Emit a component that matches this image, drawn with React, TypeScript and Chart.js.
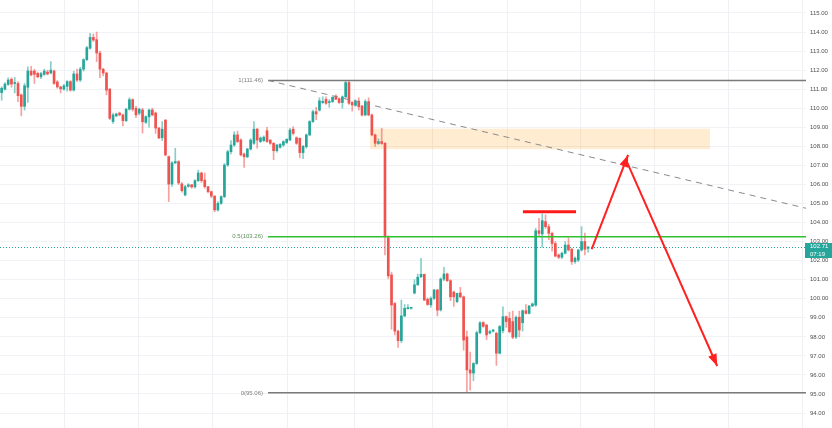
import React, { useEffect, useRef } from 'react';
import { Chart, registerables } from 'chart.js';
Chart.register(...registerables);

// ---- Candle data (hourly OHLC) ----
const opens = [
  110.82, 111.0, 111.25, 111.52, 111.3, 111.3, 110.7, 110.1, 111.1, 111.95,
  111.95, 111.83, 111.65, 111.78, 111.9, 111.85, 111.95, 111.38, 111.12, 111.0,
  111.15, 111.4, 110.95, 111.8, 111.48, 112.05, 112.55, 113.15, 113.72, 113.6,
  112.9, 112.05, 111.85, 111.0, 109.3, 109.6, 109.75, 109.65, 109.35, 109.95,
  110.45, 110.0, 109.74, 109.91, 109.26, 109.55, 109.91, 109.75, 108.96, 108.45,
  109.38, 107.46, 106.02, 107.13, 107.2, 106.03, 105.45, 105.9, 105.98, 105.87,
  106.2, 106.6, 106.23, 105.88, 105.62, 105.39, 104.66, 105.01, 105.36, 107.02,
  107.72, 108.07, 108.6, 108.33, 107.6, 107.45, 107.86, 108.16, 108.9, 108.25,
  108.3, 108.82, 108.33, 108.16, 107.77, 107.95, 108.07, 108.2, 108.33, 108.9,
  108.45, 108.42, 107.67, 107.98, 108.6, 109.3, 109.82, 109.9, 110.3, 110.47,
  110.3, 110.35, 110.64, 110.5, 110.3, 110.6, 111.35, 110.3, 110.15, 110.38,
  110.12, 109.65, 110.35, 109.65, 108.6, 108.15, 108.25, 108.16, 103.2, 101.25,
  99.75, 98.3, 97.8, 99.1, 99.48, 99.5, 100.3, 100.73, 101.15, 101.28,
  99.97, 99.68, 100.02, 100.46, 99.41, 101.03, 101.3, 100.95, 100.35, 99.85,
  100.3, 100.1, 98.0, 96.26, 96.1, 96.6, 98.22, 98.75, 98.62, 98.2,
  98.3, 98.19, 97.14, 98.32, 99.06, 98.97, 98.8, 97.99, 99.03, 98.74,
  99.37, 99.23, 99.62, 99.67, 103.57, 103.4, 104.05, 103.78, 103.43, 102.9,
  102.3, 102.18, 102.39, 102.82, 102.6, 101.95, 102.03, 102.56, 103.0, 102.65,
];
const highs = [
  111.13, 111.35, 111.6, 111.6, 111.62, 111.4, 110.75, 111.3, 112.18, 112.2,
  112.05, 111.9, 111.88, 112.05, 112.0, 112.45, 112.0, 111.45, 111.15, 111.25,
  111.45, 111.45, 111.95, 112.05, 112.15, 112.6, 113.25, 113.93, 113.9, 114.0,
  113.0, 112.1, 111.9, 111.05, 109.75, 109.75, 109.8, 109.7, 110.0, 110.55,
  110.5, 110.1, 110.0, 110.0, 109.6, 109.95, 110.0, 109.8, 109.0, 109.3,
  109.4, 107.5, 107.2, 107.9, 107.25, 106.1, 105.95, 106.05, 106.0, 106.25,
  106.75, 106.65, 106.6, 105.9, 105.65, 105.4, 105.1, 105.4, 107.1, 107.8,
  108.3, 108.77, 108.8, 108.4, 107.65, 107.9, 108.4, 109.3, 108.95, 108.5,
  108.55, 109.0, 108.35, 108.2, 108.1, 108.15, 108.3, 108.4, 108.95, 109.03,
  108.5, 108.45, 108.05, 108.65, 109.35, 109.9, 110.05, 110.55, 110.6, 110.6,
  110.45, 110.6, 110.7, 110.55, 110.65, 111.46, 111.46, 110.35, 110.45, 110.55,
  110.15, 110.45, 110.55, 109.7, 108.65, 108.4, 108.95, 108.2, 103.3, 101.4,
  99.8, 98.35, 99.93, 99.7, 99.7, 99.55, 101.0, 101.3, 102.12, 101.3,
  100.05, 100.1, 100.5, 100.5, 101.1, 101.65, 101.35, 101.0, 100.4, 100.3,
  100.6, 100.15, 98.3, 97.2, 96.65, 98.3, 98.8, 98.8, 98.65, 98.35,
  98.4, 98.25, 98.6, 99.58, 99.1, 99.3, 99.35, 99.1, 99.35, 99.42,
  99.7, 99.65, 99.78, 103.7, 104.22, 104.45, 104.4, 103.9, 103.5, 103.0,
  102.35, 102.45, 103.0, 103.2, 102.65, 102.2, 102.6, 103.78, 103.45, 102.75,
];
const lows = [
  110.42, 110.95, 111.2, 111.1, 110.8, 110.35, 109.6, 109.9, 110.3, 111.7,
  111.3, 111.6, 111.55, 111.72, 111.75, 111.8, 111.25, 111.05, 110.8, 110.95,
  110.9, 110.9, 110.9, 111.4, 111.4, 111.95, 112.5, 113.1, 113.5, 112.45,
  111.6, 111.7, 110.7, 109.4, 109.2, 109.55, 109.6, 109.07, 109.3, 109.9,
  109.85, 109.5, 109.65, 108.7, 109.2, 109.0, 109.6, 108.68, 108.4, 108.3,
  107.5, 105.1, 105.9, 107.1, 106.0, 105.6, 105.4, 105.85, 105.8, 105.8,
  106.15, 106.1, 105.8, 105.55, 105.3, 104.57, 104.6, 104.95, 105.3, 106.95,
  107.6, 108.0, 108.2, 107.5, 106.9, 107.4, 107.8, 108.1, 107.9, 108.2,
  108.25, 108.2, 108.1, 107.3, 107.7, 107.9, 108.0, 108.15, 108.3, 108.6,
  108.1, 107.4, 107.35, 107.9, 108.55, 109.25, 109.4, 109.85, 110.25, 110.2,
  110.05, 110.3, 110.45, 110.25, 110.0, 110.55, 110.2, 109.85, 110.1, 109.9,
  109.6, 109.6, 109.6, 108.55, 108.0, 108.1, 108.1, 102.3, 101.05, 98.4,
  98.1, 97.45, 97.7, 99.05, 99.45, 99.45, 100.25, 100.7, 101.1, 99.9,
  99.65, 99.55, 99.95, 99.1, 99.35, 100.95, 100.9, 99.9, 99.6, 99.8,
  100.05, 97.3, 95.06, 95.2, 95.7, 96.55, 98.15, 98.5, 97.85, 98.15,
  98.25, 96.5, 97.1, 98.2, 98.5, 98.2, 97.9, 97.9, 98.0, 98.3,
  99.2, 99.2, 99.6, 99.6, 103.3, 102.7, 103.7, 103.1, 102.5, 102.2,
  102.1, 102.1, 102.35, 102.5, 101.8, 101.86, 101.95, 102.5, 102.3, 102.45,
];
const closes = [
  111.05, 111.27, 111.48, 111.27, 111.33, 110.66, 110.1, 111.18, 111.96, 111.75,
  111.78, 111.65, 111.82, 111.95, 111.8, 112.0, 111.3, 111.12, 111.02, 111.18,
  111.4, 110.95, 111.8, 111.48, 112.05, 112.55, 113.18, 113.72, 113.58, 112.9,
  112.05, 111.85, 110.95, 109.47, 109.65, 109.7, 109.65, 109.35, 109.95, 110.45,
  109.95, 109.65, 109.95, 109.29, 109.56, 109.91, 109.65, 108.96, 108.44, 108.9,
  107.55, 106.02, 107.13, 107.2, 106.08, 105.67, 105.88, 105.98, 105.87, 106.2,
  106.6, 106.2, 105.88, 105.62, 105.39, 104.66, 105.01, 105.36, 107.02, 107.72,
  108.07, 108.6, 108.25, 107.55, 107.45, 107.86, 108.33, 108.9, 108.33, 108.44,
  108.48, 108.25, 108.16, 107.77, 108.07, 108.1, 108.25, 108.37, 108.86, 108.68,
  108.16, 107.67, 108.0, 108.6, 109.3, 109.82, 109.7, 110.39, 110.36, 110.26,
  110.35, 110.58, 110.47, 110.3, 110.6, 111.35, 110.26, 110.17, 110.38, 110.08,
  109.64, 110.35, 109.65, 108.6, 108.16, 108.25, 108.15, 103.26, 101.2, 99.67,
  98.3, 97.8, 99.1, 99.5, 99.52, 99.52, 100.73, 101.13, 101.28, 99.93,
  99.7, 100.02, 100.46, 99.4, 101.03, 101.3, 100.95, 100.1, 100.1, 100.28,
  100.1, 97.83, 96.26, 96.1, 96.6, 98.22, 98.74, 98.55, 98.1, 98.28,
  98.36, 97.14, 98.54, 99.06, 98.8, 98.27, 97.98, 99.03, 98.36, 99.37,
  99.23, 99.62, 99.73, 103.57, 103.43, 104.1, 103.78, 103.43, 102.9, 102.24,
  102.18, 102.39, 102.82, 102.56, 101.95, 102.13, 102.56, 103.0, 102.6, 102.71,
];

// total time slots on the x axis (candles + empty future space)
const SLOT_COUNT = 246;
const slotLabels = Array.from({ length: SLOT_COUNT }, (_, i) => String(i));

// price axis
const priceTicks = [94, 95, 96, 97, 98, 99, 100, 101, 102, 103, 104, 105, 106, 107, 108, 109, 110, 111, 112, 113, 114, 115];
const PRICE_MIN = 93.215;
const PRICE_MAX = 115.682;

// day separators (slot index positions)
const dayBreaks = [18.9, 41.6, 64.3, 87.1, 107.6, 131.4, 154.3, 176.6, 199.2, 221.8, 244.4];

// Fibonacci retracement
const fibStartSlot = 81.3;
const fibLabels = ['1(111.46)', '0.5(103.26)', '0(95.06)'];
const fibPrices = [111.46, 103.26, 95.06];

// trend line (slot, price)
const trendFrom = [81.3, 111.46];
const trendTo = [245.5, 104.75];

// supply zone
const zoneSlots = [112.4, 216.2];
const zonePrices = [107.85, 108.93];

// resistance mark
const resSlots = [159.1, 175.3];
const resPrice = 104.57;

// projection arrows (slot, price)
const arrowUp = [[180.1, 102.6], [191.2, 107.55]];
const arrowDown = [[190.6, 107.28], [218.4, 96.47]];

// last price
const lastPrice = 102.71;
const countdown = '07:19';

const UP = '#26a69a';
const DOWN = '#ef5350';
const UP_WICK = 'rgba(38,166,154,0.55)';
const DOWN_WICK = 'rgba(239,83,80,0.55)';
const FONT = "'Liberation Sans', Arial, sans-serif";

function drawArrow(ctx: CanvasRenderingContext2D, x1: number, y1: number, x2: number, y2: number) {
  ctx.beginPath();
  ctx.moveTo(x1, y1);
  ctx.lineTo(x2, y2);
  ctx.stroke();
  const a = Math.atan2(y2 - y1, x2 - x1);
  const len = 12, hw = 4.5;
  const bx = x2 - Math.cos(a) * len, by = y2 - Math.sin(a) * len;
  ctx.beginPath();
  ctx.moveTo(x2, y2);
  ctx.lineTo(bx + Math.sin(a) * hw, by - Math.cos(a) * hw);
  ctx.lineTo(bx - Math.sin(a) * hw, by + Math.cos(a) * hw);
  ctx.closePath();
  ctx.fill();
}

const drawingsPlugin = {
  id: 'drawings',
  beforeDatasetsDraw(chart: any) {
    const { ctx, chartArea, scales } = chart;
    const xs = scales.x, ys = scales.y;
    ctx.save();
    // day separators
    ctx.strokeStyle = '#eef0f3';
    ctx.lineWidth = 1;
    dayBreaks.forEach((d) => {
      const x = Math.round(xs.getPixelForValue(d)) + 0.5;
      ctx.beginPath();
      ctx.moveTo(x, chartArea.top);
      ctx.lineTo(x, chartArea.bottom);
      ctx.stroke();
    });
    // zone
    const zx1 = xs.getPixelForValue(zoneSlots[0]);
    const zx2 = xs.getPixelForValue(zoneSlots[1]);
    const zy1 = ys.getPixelForValue(zonePrices[1]);
    const zy2 = ys.getPixelForValue(zonePrices[0]);
    ctx.fillStyle = 'rgba(255,152,0,0.18)';
    ctx.fillRect(zx1, zy1, zx2 - zx1, zy2 - zy1);
    // last price dotted line
    const ly = Math.round(ys.getPixelForValue(lastPrice)) + 0.5;
    ctx.strokeStyle = UP;
    ctx.setLineDash([1, 2]);
    ctx.beginPath();
    ctx.moveTo(chartArea.left, ly);
    ctx.lineTo(chartArea.right, ly);
    ctx.stroke();
    ctx.setLineDash([]);
    ctx.restore();
  },
  afterDatasetsDraw(chart: any) {
    const { ctx, chartArea, scales } = chart;
    const xs = scales.x, ys = scales.y;
    ctx.save();
    // fib levels
    const fx = xs.getPixelForValue(fibStartSlot);
    ctx.font = `6px ${FONT}`;
    ctx.textAlign = 'right';
    ctx.textBaseline = 'middle';
    fibPrices.forEach((p, i) => {
      const y = ys.getPixelForValue(p);
      const col = i === 1 ? '#2fc12f' : '#7a7a7a';
      ctx.strokeStyle = col;
      ctx.lineWidth = 1.5;
      ctx.beginPath();
      ctx.moveTo(fx, y);
      ctx.lineTo(chartArea.right, y);
      ctx.stroke();
      ctx.fillStyle = i === 1 ? '#5d8f5d' : '#808080';
      ctx.fillText(fibLabels[i], fx - 5, y);
    });
    // trend line
    ctx.strokeStyle = '#8a8a8a';
    ctx.lineWidth = 1;
    ctx.setLineDash([6, 5]);
    ctx.beginPath();
    ctx.moveTo(xs.getPixelForValue(trendFrom[0]), ys.getPixelForValue(trendFrom[1]));
    ctx.lineTo(xs.getPixelForValue(trendTo[0]), ys.getPixelForValue(trendTo[1]));
    ctx.stroke();
    ctx.setLineDash([]);
    // resistance mark
    ctx.strokeStyle = '#ff1a1a';
    ctx.lineWidth = 3;
    ctx.beginPath();
    const ry = ys.getPixelForValue(resPrice);
    ctx.moveTo(xs.getPixelForValue(resSlots[0]), ry);
    ctx.lineTo(xs.getPixelForValue(resSlots[1]), ry);
    ctx.stroke();
    // arrows
    ctx.lineWidth = 2;
    ctx.strokeStyle = '#ff2020';
    ctx.fillStyle = '#ff2020';
    [arrowUp, arrowDown].forEach((a) => {
      drawArrow(ctx,
        xs.getPixelForValue(a[0][0]), ys.getPixelForValue(a[0][1]),
        xs.getPixelForValue(a[1][0]), ys.getPixelForValue(a[1][1]));
    });
    ctx.restore();
  },
  afterDraw(chart: any) {
    const { ctx, chartArea, scales } = chart;
    const ys = scales.y;
    ctx.save();
    const y = ys.getPixelForValue(lastPrice);
    ctx.fillStyle = UP;
    ctx.fillRect(chartArea.right - 1, Math.round(y) - 4, 27, 15);
    ctx.fillStyle = '#ffffff';
    ctx.font = `6px ${FONT}`;
    ctx.textAlign = 'left';
    ctx.textBaseline = 'middle';
    ctx.fillText(lastPrice.toFixed(2), chartArea.right + 4, Math.round(y) - 0.5);
    ctx.fillText(countdown, chartArea.right + 4, Math.round(y) + 7);
    ctx.restore();
  },
};

export default function App() {
  const ref = useRef<HTMLCanvasElement | null>(null);
  useEffect(() => {
    document.body.style.margin = '0';
    const canvas = ref.current;
    if (!canvas) return;
    const isUp = (i: number) => closes[i] >= opens[i];
    const chart = new Chart(canvas, {
      type: 'bar',
      data: {
        labels: slotLabels,
        datasets: [
          {
            label: 'body',
            data: opens.map((o, i) => [o, closes[i]]) as any,
            backgroundColor: (c: any) => (isUp(c.dataIndex) ? UP : DOWN),
            barThickness: 2,
            minBarLength: 1,
            grouped: false,
            borderWidth: 0,
            order: 0,
          } as any,
          {
            label: 'wick',
            data: lows.map((l, i) => [l, highs[i]]) as any,
            backgroundColor: (c: any) => (isUp(c.dataIndex) ? UP_WICK : DOWN_WICK),
            barThickness: 1,
            grouped: false,
            borderWidth: 0,
            order: 1,
          } as any,
        ],
      },
      options: {
        responsive: false,
        animation: false,
        devicePixelRatio: 1,
        layout: { padding: 0 },
        plugins: { legend: { display: false }, tooltip: { enabled: false } },
        scales: {
          x: { type: 'category', display: false, offset: true },
          y: {
            position: 'right',
            min: PRICE_MIN,
            max: PRICE_MAX,
            afterBuildTicks: (axis: any) => {
              axis.ticks = priceTicks.map((v) => ({ value: v }));
            },
            afterFit: (axis: any) => {
              axis.width = 26;
              axis.paddingTop = 0;
              axis.paddingBottom = 0;
            },
            border: { display: false },
            grid: { color: '#f0f2f5', drawTicks: false, lineWidth: 1 },
            ticks: {
              autoSkip: false,
              padding: 4,
              color: '#505050',
              font: { size: 6, family: FONT },
              callback: (v: any) => Number(v).toFixed(2),
            },
          },
        },
      },
      plugins: [drawingsPlugin],
    });
    return () => chart.destroy();
  }, []);
  return (
    <div style={{ width: 832, height: 428, background: '#fff' }}>
      <canvas ref={ref} width={832} height={428} style={{ display: 'block' }} />
    </div>
  );
}
